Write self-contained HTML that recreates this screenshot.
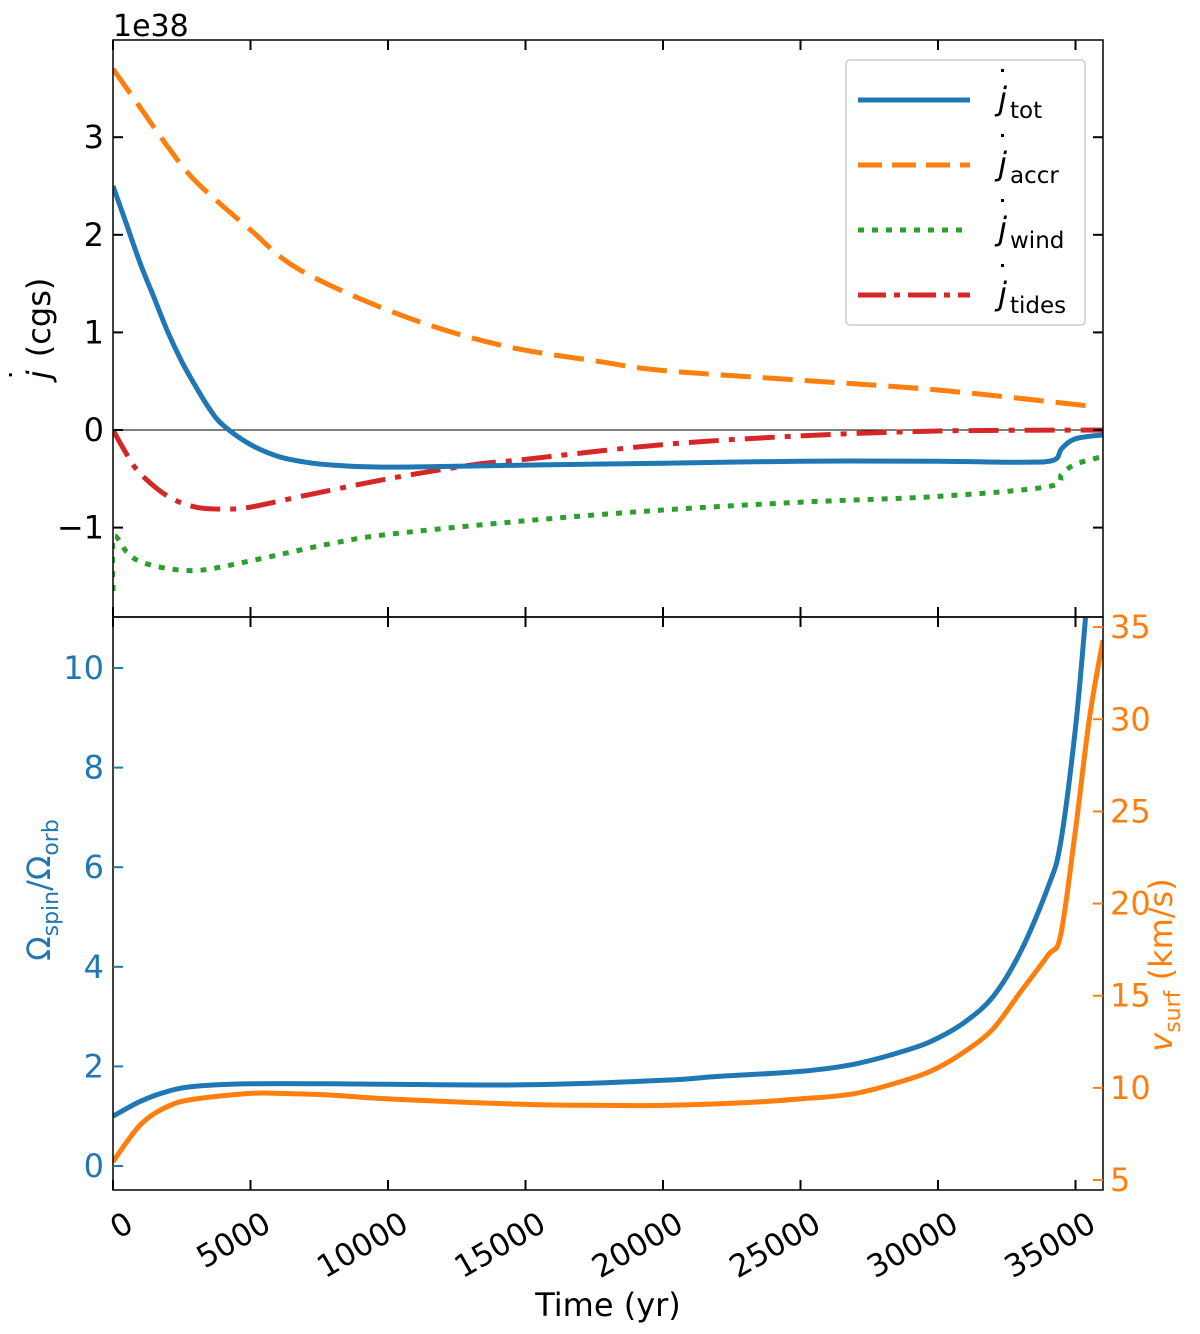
<!DOCTYPE html>
<html><head><meta charset="utf-8"><style>
body{margin:0;background:#fff}
svg{display:block;font-family:"DejaVu Sans","Liberation Sans",sans-serif}
</style></head><body>
<svg id="chart" width="1200" height="1334" viewBox="0 0 1200 1334" xmlns="http://www.w3.org/2000/svg">
<defs>
<clipPath id="c1"><rect x="113" y="40" width="990" height="577"/></clipPath>
<clipPath id="c2"><rect x="113" y="617" width="990" height="573"/></clipPath>
</defs>
<g id="gtop"></g>
<g id="gbot"></g>
<text x="113" y="36" font-size="30">1e38</text>
<text transform="translate(50,330) rotate(-90)" text-anchor="middle" font-size="32"><tspan font-style="italic">j</tspan><tspan dx="-12" dy="-18" font-size="30">˙</tspan><tspan dy="18"> (cgs)</tspan></text>
<text transform="translate(50,890) rotate(-90)" text-anchor="middle" font-size="32" fill="#1f77b4">Ω<tspan font-size="22" dy="8">spin</tspan><tspan dy="-8">/Ω</tspan><tspan font-size="22" dy="8">orb</tspan></text>
<text transform="translate(1172,965) rotate(-90)" text-anchor="middle" font-size="32" fill="#ff7f0e"><tspan font-style="italic">v</tspan><tspan font-size="22" dy="8">surf</tspan><tspan dy="-8"> (km/s)</tspan></text>
<text x="608" y="1316" text-anchor="middle" font-size="32">Time (yr)</text>
<g>
<rect x="846" y="60" width="239" height="265" rx="4" fill="#fff" stroke="#ccc" stroke-width="1.5"/>
<line x1="858" y1="100" x2="970" y2="100" stroke="#1f77b4" stroke-width="5"/>
<line x1="858" y1="165" x2="970" y2="165" stroke="#ff7f0e" stroke-width="5" stroke-dasharray="24,10"/>
<line x1="858" y1="230" x2="970" y2="230" stroke="#2ca02c" stroke-width="5" stroke-dasharray="6,8"/>
<line x1="858" y1="295" x2="970" y2="295" stroke="#d62728" stroke-width="5" stroke-dasharray="28,8,6,8"/>
<text x="995" y="110" font-size="32"><tspan font-style="italic">j</tspan><tspan dx="-12" dy="-18" font-size="30">˙</tspan><tspan font-size="23" dy="26">tot</tspan></text>
<text x="995" y="175" font-size="32"><tspan font-style="italic">j</tspan><tspan dx="-12" dy="-18" font-size="30">˙</tspan><tspan font-size="23" dy="26">accr</tspan></text>
<text x="995" y="240" font-size="32"><tspan font-style="italic">j</tspan><tspan dx="-12" dy="-18" font-size="30">˙</tspan><tspan font-size="23" dy="26">wind</tspan></text>
<text x="995" y="305" font-size="32"><tspan font-style="italic">j</tspan><tspan dx="-12" dy="-18" font-size="30">˙</tspan><tspan font-size="23" dy="26">tides</tspan></text>
</g>
</svg>
<script>
const tTot=[0,500,1000,1500,2000,2500,3000,3500,4000,5000,6000,7000,8000,10000,15000,20000,25000,30000,33000,34200,34500,35000,36000];
const jTot=[2.5,2.1,1.7,1.35,1.0,0.7,0.45,0.22,0.05,-0.15,-0.27,-0.33,-0.36,-0.38,-0.36,-0.34,-0.32,-0.32,-0.33,-0.31,-0.19,-0.09,-0.05];
const tAccr=[0,1000,2000,3000,5000,6800,10440,14080,17720,20000,25000,30000,35700];
const jAccr=[3.7,3.3,2.9,2.55,2.05,1.64,1.18,0.87,0.70,0.61,0.51,0.41,0.24];
const tWind=[0,20,500,1000,2000,3000,4000,6000,8000,10000,15000,20000,25000,30000,34000,34500,35000,36000];
const jWind=[-1.65,-1.1,-1.25,-1.35,-1.42,-1.44,-1.4,-1.28,-1.16,-1.07,-0.93,-0.82,-0.74,-0.68,-0.58,-0.45,-0.35,-0.27];
const tTides=[0,500,1000,2000,3000,4000,5000,7000,10000,13000,15000,20000,25000,30000,36000];
const jTides=[0,-0.25,-0.45,-0.68,-0.79,-0.81,-0.79,-0.67,-0.5,-0.36,-0.3,-0.15,-0.06,-0.01,0];
const tOmega=[0,1000,2000,3000,5000,8000,10000,15000,20000,22000,25000,27000,29000,30000,31000,32000,33000,34000,34460,35000,35370];
const omega=[1.0,1.3,1.5,1.6,1.65,1.65,1.64,1.63,1.72,1.8,1.9,2.05,2.35,2.57,2.9,3.4,4.3,5.6,6.5,8.8,11.05];
const tV=[0,1000,2000,3000,5000,6000,8000,10000,15000,18000,20000,23000,25000,27000,29000,30000,31000,32000,33000,34000,34460,35000,35500,36000];
const vSurf=[6,8,9,9.4,9.7,9.7,9.6,9.4,9.1,9.05,9.05,9.2,9.4,9.7,10.5,11.1,12,13.2,15.2,17.2,18.3,24,30,34.3];
const xTicks=[0,5000,10000,15000,20000,25000,30000,35000];
const jTicks=[-1,0,1,2,3];
const omTicks=[0,2,4,6,8,10];
const vTicks=[5,10,15,20,25,30,35];

const NS='http://www.w3.org/2000/svg';
const X=t=>113+(t/36000)*990;
const Yj=v=>430-v*97.6;
const Yo=v=>1166-v*49.8;
const Yv=v=>1180-(v-5)*18.43;
function mk(tag,attrs,parent){const e=document.createElementNS(NS,tag);for(const k in attrs)e.setAttribute(k,attrs[k]);parent.appendChild(e);return e;}
const gTop=document.getElementById('gtop'),gBot=document.getElementById('gbot');
function smoothPath(pts){
  let d='M'+pts[0][0].toFixed(1)+','+pts[0][1].toFixed(1);
  for(let i=0;i<pts.length-1;i++){
    const p0=pts[Math.max(0,i-1)],p1=pts[i],p2=pts[i+1],p3=pts[Math.min(pts.length-1,i+2)];
    const c1=[p1[0]+(p2[0]-p0[0])/6,p1[1]+(p2[1]-p0[1])/6];
    const c2=[p2[0]-(p3[0]-p1[0])/6,p2[1]-(p3[1]-p1[1])/6];
    d+='C'+c1.map(v=>v.toFixed(1)).join(',')+' '+c2.map(v=>v.toFixed(1)).join(',')+' '+p2[0].toFixed(1)+','+p2[1].toFixed(1);
  }
  return d;
}
function line(ts,vs,Y,color,dash,clip,parent,name){
  const d=smoothPath(ts.map((t,i)=>[X(t),Y(vs[i])]));
  const p=mk('path',{d:d,fill:'none',stroke:color,'stroke-width':5,'stroke-dasharray':dash,'clip-path':'url(#'+clip+')','stroke-linejoin':'round'},parent);
  
  
}
const z=mk('line',{x1:113,x2:1103,y1:Yj(0),y2:Yj(0),stroke:'#000','stroke-width':1},gTop);


line(tAccr,jAccr,Yj,'#ff7f0e','30,12','c1',gTop,'series-j-accr');
line(tWind,jWind,Yj,'#2ca02c','6,8','c1',gTop,'series-j-wind');
line(tTides,jTides,Yj,'#d62728','30,10,6,10','c1',gTop,'series-j-tides');
line(tTot,jTot,Yj,'#1f77b4','none','c1',gTop,'series-j-tot');
line(tOmega,omega,Yo,'#1f77b4','none','c2',gBot,'series-omega');
line(tV,vSurf,Yv,'#ff7f0e','none','c2',gBot,'series-vsurf');
const f1=mk('rect',{x:113,y:40,width:990,height:577,fill:'none',stroke:'#000','stroke-width':1.5},gTop);


const f2=mk('rect',{x:113,y:617,width:990,height:573,fill:'none',stroke:'#000','stroke-width':1.5},gBot);


xTicks.forEach(t=>{
  const x=X(t);
  for(const y of [40,617]){mk('line',{x1:x,x2:x,y1:y,y2:y+10,stroke:'#000','stroke-width':2},gTop);}
  for(const y of [617,1190]){mk('line',{x1:x,x2:x,y1:y,y2:y-10,stroke:'#000','stroke-width':2},gBot);}
  const tx=mk('text',{x:x+10,y:1208,'font-size':31,'text-anchor':'end',transform:'rotate(-30 '+(x+10)+' 1208)'},gBot);
  tx.setAttribute('dy','0.8em');
  tx.textContent=t;
  
  
});
jTicks.forEach(v=>{
  const y=Yj(v);
  mk('line',{x1:113,x2:123,y1:y,y2:y,stroke:'#000','stroke-width':2},gTop);
  mk('line',{x1:1093,x2:1103,y1:y,y2:y,stroke:'#000','stroke-width':2},gTop);
  const tx=mk('text',{x:104,y:y+11,'font-size':32,'text-anchor':'end'},gTop);
  tx.textContent=v<0?'\u2212'+(-v):v;
  
  
});
omTicks.forEach(v=>{
  const y=Yo(v);
  mk('line',{x1:113,x2:123,y1:y,y2:y,stroke:'#1f77b4','stroke-width':2},gBot);
  const tx=mk('text',{x:104,y:y+11,'font-size':32,'text-anchor':'end',fill:'#1f77b4'},gBot);
  tx.textContent=v;
  
  
});
vTicks.forEach(v=>{
  const y=Yv(v);
  mk('line',{x1:1093,x2:1103,y1:y,y2:y,stroke:'#ff7f0e','stroke-width':2},gBot);
  const tx=mk('text',{x:1110,y:y+11,'font-size':32,fill:'#ff7f0e'},gBot);
  tx.textContent=v;
  
  
});
</script>
</body></html>
